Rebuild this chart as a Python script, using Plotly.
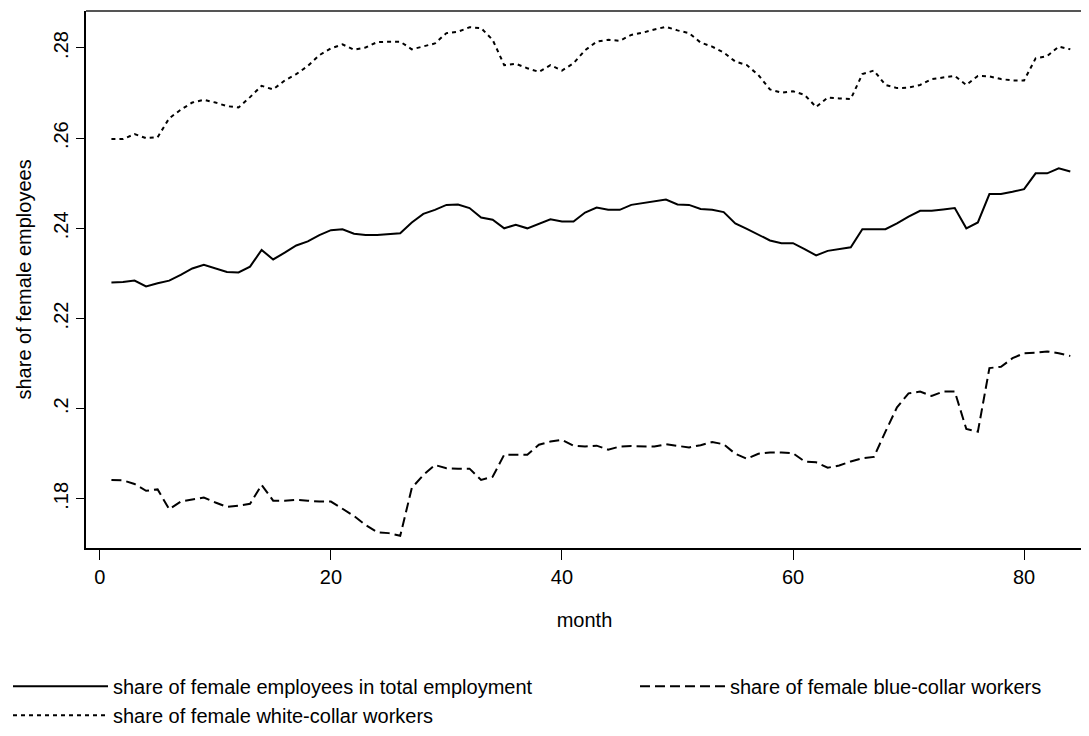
import plotly.graph_objects as go

months = list(range(1, 85))

total = [0.2280, 0.2281, 0.2284, 0.2271, 0.2278, 0.2284, 0.2297, 0.2311, 0.2319, 0.2311,
         0.2303, 0.2302, 0.2315, 0.2352, 0.2331, 0.2346, 0.2362, 0.2371, 0.2385, 0.2396,
         0.2398, 0.2388, 0.2385, 0.2385, 0.2387, 0.2389, 0.2413, 0.2432, 0.2441, 0.2452,
         0.2453, 0.2445, 0.2424, 0.2419, 0.2400, 0.2408, 0.2400, 0.2410, 0.2420, 0.2415,
         0.2415, 0.2435, 0.2446, 0.2441, 0.2441, 0.2452, 0.2456, 0.2459, 0.2464, 0.2453,
         0.2452, 0.2443, 0.2441, 0.2436, 0.2411, 0.2399, 0.2386, 0.2373, 0.2367, 0.2367,
         0.2354, 0.2340, 0.2350, 0.2354, 0.2358, 0.2398, 0.2398, 0.2398, 0.2411, 0.2426,
         0.2439, 0.2439, 0.2442, 0.2445, 0.2400, 0.2413, 0.2476, 0.2476, 0.2481, 0.2487,
         0.2522, 0.2522, 0.2533, 0.2526]

blue = [0.1842, 0.1841, 0.1833, 0.1818, 0.1821, 0.1777, 0.1794, 0.1798, 0.1803, 0.1792,
        0.1782, 0.1785, 0.1789, 0.1831, 0.1796, 0.1796, 0.1798, 0.1796, 0.1794, 0.1794,
        0.1777, 0.1762, 0.1742, 0.1726, 0.1724, 0.1718, 0.1824, 0.1853, 0.1875, 0.1868,
        0.1867, 0.1867, 0.1842, 0.1849, 0.1898, 0.1898, 0.1898, 0.1920, 0.1927, 0.1931,
        0.1918, 0.1916, 0.1918, 0.1909, 0.1916, 0.1917, 0.1916, 0.1916, 0.1921, 0.1918,
        0.1914, 0.1919, 0.1926, 0.1921, 0.1900, 0.1889, 0.1900, 0.1903, 0.1903, 0.1901,
        0.1883, 0.1881, 0.1869, 0.1874, 0.1883, 0.1890, 0.1893, 0.1949, 0.2003, 0.2034,
        0.2038, 0.2028, 0.2038, 0.2038, 0.1955, 0.1949, 0.2090, 0.2093, 0.2112, 0.2123,
        0.2124, 0.2127, 0.2123, 0.2117]

white = [0.2598, 0.2598, 0.2609, 0.2600, 0.2602, 0.2644, 0.2663, 0.2679, 0.2685, 0.2679,
         0.2671, 0.2668, 0.2691, 0.2716, 0.2708, 0.2728, 0.2742, 0.2760, 0.2784, 0.2799,
         0.2808, 0.2796, 0.2801, 0.2813, 0.2814, 0.2814, 0.2797, 0.2804, 0.2810, 0.2833,
         0.2836, 0.2846, 0.2844, 0.2818, 0.2762, 0.2765, 0.2755, 0.2747, 0.2762, 0.2750,
         0.2766, 0.2795, 0.2814, 0.2818, 0.2816, 0.2829, 0.2834, 0.2841, 0.2847, 0.2839,
         0.2833, 0.2812, 0.2803, 0.2790, 0.2770, 0.2762, 0.2740, 0.2708, 0.2701, 0.2704,
         0.2696, 0.2669, 0.2690, 0.2688, 0.2687, 0.2742, 0.2750, 0.2718, 0.2711, 0.2712,
         0.2718, 0.2731, 0.2734, 0.2738, 0.2718, 0.2738, 0.2737, 0.2731, 0.2728, 0.2728,
         0.2777, 0.2782, 0.2803, 0.2797]

series_names = ["share of female employees in total employment",
                "share of female blue-collar workers",
                "share of female white-collar workers"]

y_tickvals = [0.18, 0.20, 0.22, 0.24, 0.26, 0.28]
y_ticktext = [".18", ".2", ".22", ".24", ".26", ".28"]
x_tickvals = [0, 20, 40, 60, 80]
y_title = "share of female employees"
x_title = "month"

FONT = "Liberation Sans, Arial, sans-serif"
FS = 20

fig = go.Figure()
fig.add_trace(go.Scatter(x=months, y=total, mode="lines", name=series_names[0],
                         line=dict(color="black", width=2), legend="legend"))
fig.add_trace(go.Scatter(x=months, y=blue, mode="lines", name=series_names[1],
                         line=dict(color="black", width=2, dash="10px,5px"), legend="legend2"))
fig.add_trace(go.Scatter(x=months, y=white, mode="lines", name=series_names[2],
                         line=dict(color="black", width=2, dash="4px,4px"), legend="legend"))

# page body has an 8px margin, so the figure is sized to fit the window
fig.update_layout(
    width=1081, height=728,
    margin=dict(l=78, r=6, t=3, b=188, autoexpand=False),
    paper_bgcolor="white", plot_bgcolor="white",
    font=dict(family=FONT, size=FS, color="black"),
    showlegend=True,
    legend=dict(orientation="v", xref="container", yref="container",
                x=0.0, xanchor="left", y=0.095, yanchor="top",
                itemwidth=95, tracegroupgap=0, bgcolor="rgba(0,0,0,0)",
                font=dict(family=FONT, size=FS, color="black")),
    legend2=dict(orientation="v", xref="container", yref="container",
                 x=0.58, xanchor="left", y=0.095, yanchor="top",
                 itemwidth=85, tracegroupgap=0, bgcolor="rgba(0,0,0,0)",
                 font=dict(family=FONT, size=FS, color="black")),
)

fig.update_xaxes(range=[-1.2, 85.1], tickvals=x_tickvals, ticks="outside", ticklen=10,
                 tickcolor="black", showgrid=False, zeroline=False, automargin=True,
                 showline=True, linecolor="black", linewidth=2, mirror=False,
                 title=dict(text=x_title, standoff=26, font=dict(size=FS)),
                 tickfont=dict(size=FS))
fig.update_yaxes(range=[0.1691, 0.2882], tickvals=y_tickvals, ticktext=y_ticktext,
                 ticks="outside", ticklen=8, tickcolor="black", tickangle=-90,
                 showgrid=False, zeroline=False, automargin=False,
                 showline=True, linecolor="black", linewidth=2, mirror=False,
                 tickfont=dict(size=FS))

# y-axis title as a rotated annotation (stable placement)
fig.add_annotation(text=y_title, textangle=-90, xref="paper", yref="paper",
                   x=0, y=0.5, xanchor="center", yanchor="middle", xshift=-63,
                   showarrow=False, font=dict(family=FONT, size=FS, color="black"))

# outer frame (top/right) in dark gray
fig.add_shape(type="line", xref="paper", yref="paper", x0=0, x1=1, y0=1, y1=1,
              line=dict(color="#555555", width=2))
fig.add_shape(type="line", xref="paper", yref="paper", x0=1, x1=1, y0=0, y1=1,
              line=dict(color="#555555", width=2))

fig.write_html("out.html")
